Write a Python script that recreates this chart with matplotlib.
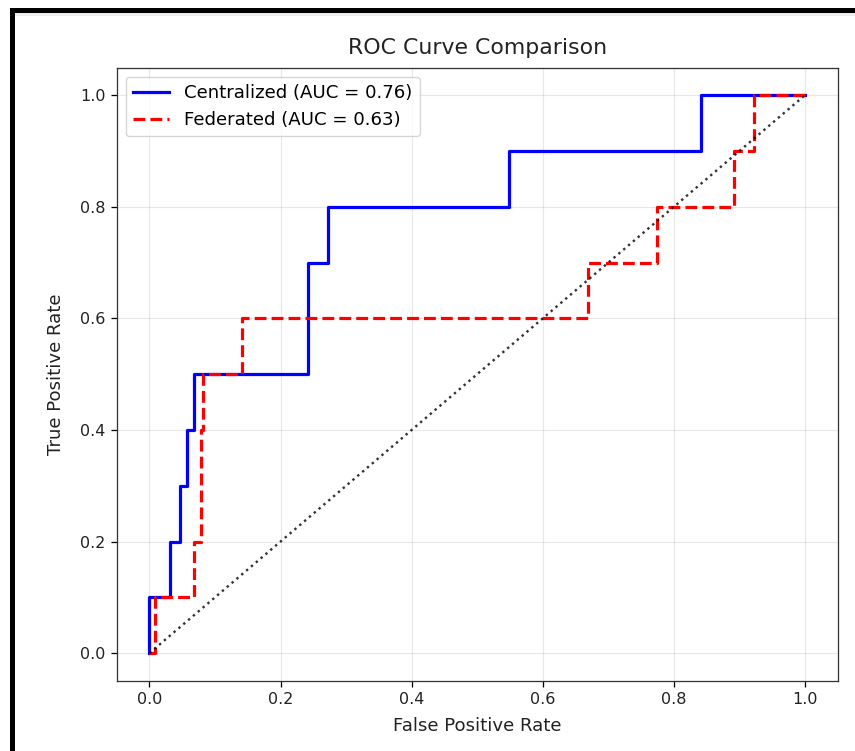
import matplotlib
matplotlib.use("Agg")
import matplotlib.pyplot as plt
from matplotlib.patches import Rectangle

# ROC corner points
cent_fpr = [0.0, 0.0, 0.032, 0.032, 0.047, 0.047, 0.057, 0.057, 0.068, 0.068,
            0.242, 0.242, 0.273, 0.273, 0.548, 0.548, 0.842, 0.842, 1.0]
cent_tpr = [0.0, 0.1, 0.1, 0.2, 0.2, 0.3, 0.3, 0.4, 0.4, 0.5,
            0.5, 0.7, 0.7, 0.8, 0.8, 0.9, 0.9, 1.0, 1.0]
cent_auc = 0.76

fed_fpr = [0.0, 0.009, 0.009, 0.068, 0.068, 0.078, 0.078, 0.081, 0.081, 0.1415,
           0.1415, 0.669, 0.669, 0.774, 0.774, 0.892, 0.892, 0.923, 0.923, 1.0]
fed_tpr = [0.0, 0.0, 0.1, 0.1, 0.2, 0.2, 0.4, 0.4, 0.5, 0.5,
           0.6, 0.6, 0.7, 0.7, 0.8, 0.8, 0.9, 0.9, 1.0, 1.0]
fed_auc = 0.63

chance = [0.0, 1.0]

S = 1.15  # screenshot scale relative to default sizes

fig = plt.figure(figsize=(8.55, 7.51), dpi=100)

# screenshot frame: thick black lines on the left and top edges
fig.patches.append(Rectangle((10 / 855, 0), 5 / 855, 743 / 751, transform=fig.transFigure,
                             facecolor="black", edgecolor="none", zorder=10))
fig.patches.append(Rectangle((10 / 855, 738 / 751), 845 / 855, 5 / 751, transform=fig.transFigure,
                             facecolor="black", edgecolor="none", zorder=10))
fig.patches.append(Rectangle((15 / 855, 735 / 751), 840 / 855, 3 / 751, transform=fig.transFigure,
                             facecolor="#eeeeee", edgecolor="none", zorder=9))

ax = fig.add_axes([116.7 / 855, 70 / 751, 720.8 / 855, 613.5 / 751])

ax.plot(cent_fpr, cent_tpr, color="blue", linewidth=2 * S,
        label=f"Centralized (AUC = {cent_auc:.2f})")
ax.plot(fed_fpr, fed_tpr, color="red", linestyle="--", linewidth=2 * S,
        label=f"Federated (AUC = {fed_auc:.2f})")
ax.plot(chance, chance, color="black", linestyle=":", linewidth=1.5 * S, alpha=0.8)

ax.set_title("ROC Curve Comparison", fontsize=15.8, color="#222222", pad=10)
ax.set_xlabel("False Positive Rate", fontsize=13.1, color="#222222", labelpad=7)
ax.set_ylabel("True Positive Rate", fontsize=13.1, color="#222222", labelpad=11)
ax.tick_params(labelsize=11.5, labelcolor="#222222", width=0.8 * S, length=3.5 * S, pad=3.5 * S)
for spine in ax.spines.values():
    spine.set_linewidth(0.8 * S)
    spine.set_color("#333333")
ax.grid(True, alpha=0.3)
ax.legend(loc="upper left", fontsize=13.1)

fig.savefig("out.png", dpi=100)
